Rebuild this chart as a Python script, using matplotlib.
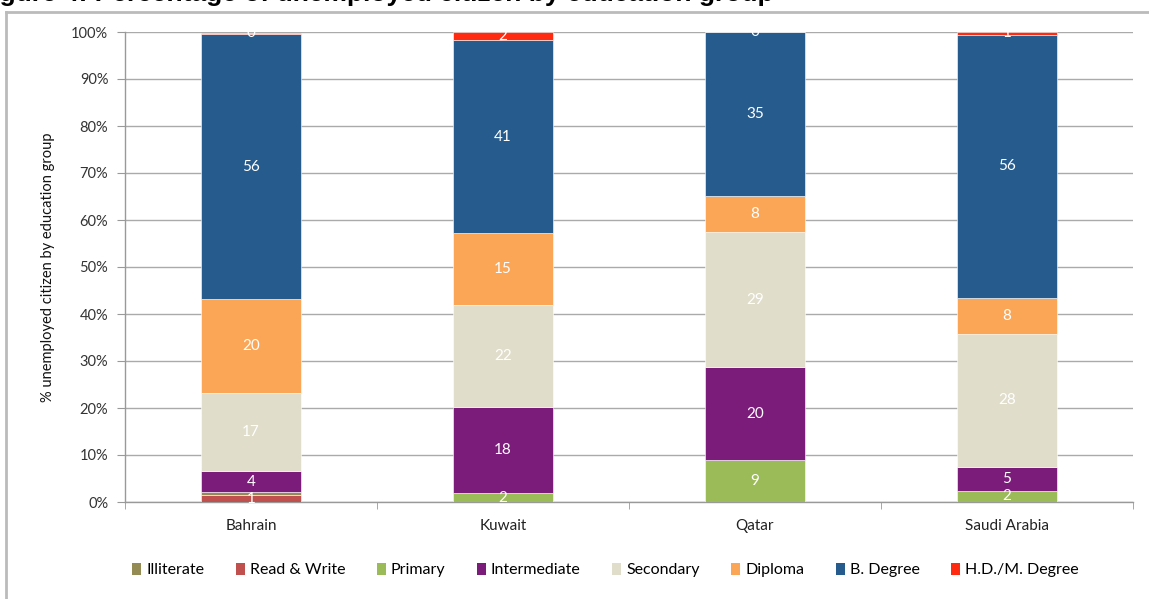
import numpy as np
import matplotlib
matplotlib.use("Agg")
import matplotlib.pyplot as plt
from matplotlib.patches import Patch
from matplotlib.lines import Line2D

plt.rcParams['font.family'] = ['Lato', 'DejaVu Sans']

countries = ['Bahrain', 'Kuwait', 'Qatar', 'Saudi Arabia']

# stacking order (bottom to top)
stack_order = ['Read & Write', 'Illiterate', 'Primary', 'Intermediate',
               'Secondary', 'Diploma', 'B. Degree', 'H.D./M. Degree']
legend_order = ['Illiterate', 'Read & Write', 'Primary', 'Intermediate',
                'Secondary', 'Diploma', 'B. Degree', 'H.D./M. Degree']

illiterate = [0.6, 0.0, 0.0, 0.0]
read_write = [1.45, 0.0, 0.0, 0.0]
primary = [0.0, 1.9, 8.9, 2.4]
intermediate = [4.5, 18.3, 19.8, 5.0]
secondary = [16.6, 21.7, 28.7, 28.4]
diploma = [20.0, 15.4, 7.7, 7.6]
b_degree = [56.4, 40.9, 34.8, 56.0]
hd_m_degree = [0.3, 1.7, 0.2, 0.7]

values = {
    'Illiterate': illiterate,
    'Read & Write': read_write,
    'Primary': primary,
    'Intermediate': intermediate,
    'Secondary': secondary,
    'Diploma': diploma,
    'B. Degree': b_degree,
    'H.D./M. Degree': hd_m_degree,
}

colors = {
    'Illiterate': '#948A54',
    'Read & Write': '#C0504D',
    'Primary': '#9BBB59',
    'Intermediate': '#7B1C7B',
    'Secondary': '#E0DDCB',
    'Diploma': '#FBA657',
    'B. Degree': '#265B8E',
    'H.D./M. Degree': '#FF2A10',
}

W, H = 1149, 599
fig = plt.figure(figsize=(W / 100, H / 100), dpi=100)
ax = fig.add_axes([125 / W, (H - 502) / H, (1133 - 125) / W, 470 / H])

x = np.arange(len(countries))
bottom = np.zeros(len(countries))
for name in stack_order:
    vals = np.array(values[name], dtype=float)
    ax.bar(x, vals, width=0.4, bottom=bottom, color=colors[name],
           edgecolor='white', linewidth=0.4, zorder=3)
    for i, v in enumerate(vals):
        if v >= 1 or name == 'H.D./M. Degree':
            ax.text(x[i], bottom[i] + v / 2, f"{v:.0f}", ha='center', va='center',
                    color='white', fontsize=11, zorder=4)
    bottom += vals

ax.set_xlim(-0.5, len(countries) - 0.5)
ax.set_ylim(0, 100)
ax.set_yticks(np.arange(0, 101, 10))
ax.set_yticklabels([f"{t}%" for t in range(0, 101, 10)], fontsize=10.5, color='#333333')
ax.set_xticks(x)
ax.set_xticklabels(countries, fontsize=11, color='#222222')
ax.set_xticks(np.arange(-0.5, len(countries)), minor=True)
ax.tick_params(axis='x', which='major', length=0, pad=12)
ax.tick_params(axis='x', which='minor', length=5, color='#999999', direction='out')
ax.tick_params(axis='y', length=6, color='#999999', direction='out', pad=6)
ax.yaxis.grid(True, color='#aaaaaa', linewidth=1, zorder=0)
ax.set_axisbelow(True)
for s in ['top', 'right']:
    ax.spines[s].set_visible(False)
for s in ['left', 'bottom']:
    ax.spines[s].set_color('#999999')
    ax.spines[s].set_linewidth(1)

ax.set_ylabel('% unemployed citizen by education group', fontsize=10.5, color='#111111', labelpad=12)

handles = [Patch(facecolor=colors[n], edgecolor='none') for n in legend_order]
fig.legend(handles, legend_order, loc='center', bbox_to_anchor=(0.527, (H - 570) / H),
           ncol=8, frameon=False, fontsize=11.5, handlelength=0.55, handleheight=0.8,
           handletextpad=0.3, columnspacing=2.0)

# chart border (cropped)
fig.add_artist(Line2D([6 / W, 6 / W], [0, (H - 12) / H], color='#bbbbbb', linewidth=2,
                      transform=fig.transFigure))
fig.add_artist(Line2D([6 / W, 1], [(H - 12) / H, (H - 12) / H], color='#bbbbbb', linewidth=2,
                      transform=fig.transFigure))

# title cut off at top of the image
fig.text(-24 / W, (H - 1) / H, 'Figure 4: Percentage of unemployed citizen by education group',
         fontsize=19, fontweight='bold', family='Liberation Sans', ha='left', va='baseline')

fig.savefig('out.png', dpi=100)
